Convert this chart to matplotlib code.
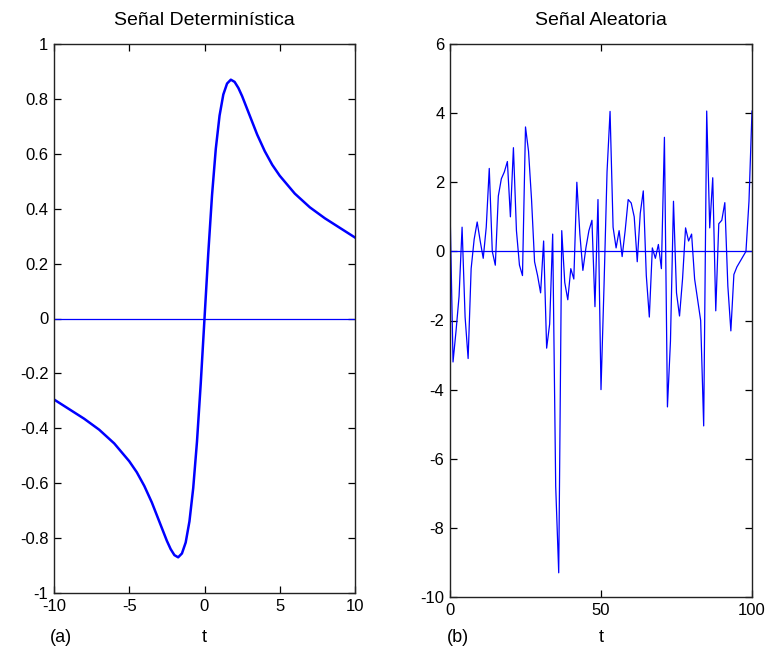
import matplotlib
matplotlib.use("Agg")
import matplotlib.pyplot as plt
import numpy as np

plt.rcParams['font.family'] = ['Liberation Sans', 'DejaVu Sans']
plt.rcParams['axes.unicode_minus'] = False

# Deterministic signal
t_det = [-10, -9, -8, -7, -6, -5, -4.5, -4, -3.5, -3, -2.5, -2.25, -2, -1.75,
         -1.5, -1.25, -1, -0.75, -0.5, -0.25, 0, 0.25, 0.5, 0.75, 1, 1.25, 1.5,
         1.75, 2, 2.25, 2.5, 3, 3.5, 4, 4.5, 5, 6, 7, 8, 9, 10]
y_det = [-0.295, -0.33, -0.365, -0.405, -0.455, -0.52, -0.56, -0.61, -0.67,
         -0.74, -0.81, -0.84, -0.862, -0.870, -0.856, -0.816, -0.739, -0.618,
         -0.449, -0.237, 0.0, 0.237, 0.449, 0.618, 0.739, 0.816, 0.856, 0.870,
         0.862, 0.84, 0.81, 0.74, 0.67, 0.61, 0.56, 0.52, 0.455, 0.405,
         0.365, 0.33, 0.295]

# Random signal
y_rand = [1.3, -3.2, -2.3, -1.3, 0.7, -1.9, -3.1, -0.5, 0.35, 0.85,
          0.3, -0.2, 0.7, 2.4, 0.0, -0.4, 1.6, 2.1, 2.3, 2.6,
          1.0, 3.0, 0.6, -0.4, -0.7, 3.6, 2.9, 1.5, -0.3, -0.7,
          -1.2, 0.3, -2.8, -2.1, 0.5, -6.8, -9.3, 0.6, -0.9, -1.4,
          -0.5, -0.8, 2.0, 0.5, -0.55, 0.1, 0.6, 0.9, -1.6, 1.5,
          -4.0, -1.0, 2.3, 4.05, 0.7, 0.1, 0.6, -0.15, 0.6, 1.5,
          1.4, 1.0, -0.3, 1.1, 1.75, -0.7, -1.9, 0.1, -0.2, 0.2,
          -0.5, 3.3, -4.5, -2.6, 1.45, -1.2, -1.87, -0.8, 0.68, 0.3,
          0.5, -0.8, -1.4, -2.0, -5.05, 4.06, 0.68, 2.13, -1.72, 0.8,
          0.9, 1.41, -1.0, -2.3, -0.67, -0.45, -0.3, -0.15, 0.0, 1.45,
          4.06]
t_rand = list(range(len(y_rand)))

W, H = 768, 656
fig = plt.figure(figsize=(W / 100, H / 100), dpi=100)

ax1 = fig.add_axes([54 / W, 1 - 593 / H, 301 / W, 549 / H])
ax2 = fig.add_axes([450 / W, 1 - 597 / H, 302 / W, 553 / H])

blue = (0, 0, 1)
ax1.plot(t_det, y_det, color=blue, lw=1.8)
ax1.axhline(0, color=blue, lw=0.9)
ax1.set_xlim(-10, 10)
ax1.set_ylim(-1, 1)
ax1.set_xticks([-10, -5, 0, 5, 10])
yt = [-1, -0.8, -0.6, -0.4, -0.2, 0, 0.2, 0.4, 0.6, 0.8, 1]
ax1.set_yticks(yt)
ax1.set_yticklabels(['-1', '-0.8', '-0.6', '-0.4', '-0.2', '0', '0.2', '0.4', '0.6', '0.8', '1'])
ax1.set_title('Señal Determinística', fontsize=14, pad=14)
ax1.set_xlabel('t', fontsize=13, labelpad=11)

ax2.plot(t_rand, y_rand, color=blue, lw=0.9)
ax2.axhline(0, color=blue, lw=0.9)
ax2.set_xlim(0, 100)
ax2.set_ylim(-10, 6)
ax2.set_xticks([0, 50, 100])
ax2.set_yticks([-10, -8, -6, -4, -2, 0, 2, 4, 6])
ax2.set_title('Señal Aleatoria', fontsize=14, pad=14)
ax2.set_xlabel('t', fontsize=13, labelpad=8)

for ax in (ax1, ax2):
    ax.tick_params(direction='in', length=5, width=0.9, top=True, right=True,
                   labelsize=12, pad=4, colors='black')
    for s in ax.spines.values():
        s.set_linewidth(1.0)
        s.set_color('#222222')

fig.text(50 / W, 1 - 637 / H, '(a)', fontsize=13, va='center', ha='left')
fig.text(447 / W, 1 - 637 / H, '(b)', fontsize=13, va='center', ha='left')

fig.savefig('out.png', dpi=100)
